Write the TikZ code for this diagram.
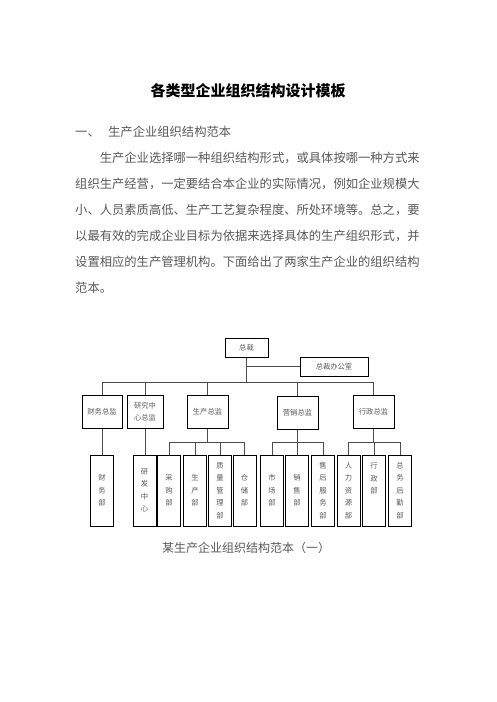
\documentclass[tikz,border=0pt]{standalone}
\usepackage{fontspec}
\setmainfont{Noto Sans CJK SC}
\tikzset{
  body/.style={anchor=west, inner sep=0, text=black!65, font=\fontsize{12.3}{14}\selectfont},
  topbox/.style={draw, line width=1pt, minimum height=19, inner sep=0, text=black!65, font=\fontsize{7.3}{10}\selectfont},
  mgr/.style={draw, line width=1pt, minimum height=33, inner sep=0, align=center, text=black!65, font=\fontsize{7.3}{12.5}\selectfont},
  dept/.style={draw, line width=1pt, minimum width=23, minimum height=71, inner sep=0, align=center, text=black!65, font=\fontsize{7.3}{12.5}\selectfont},
  link/.style={draw=black!70, line width=0.8pt}
}
\begin{document}
\begin{tikzpicture}[x=1pt,y=-1pt]
      \useasboundingbox[fill=white] (0,0) rectangle (496,702);

      \node[inner sep=0, font=\fontsize{15}{18}\selectfont\bfseries] (title) at (248,91) {各类型企业组织结构设计模板};
      \node[body] (sec) at (75,132) {一、\hspace{8.4pt}生产企业组织结构范本};
      \node[body] (l1) at (99.6,158) {生产企业选择哪一种组织结构形式，或具体按哪一种方式来};
      \node[body] (l2) at (75,184) {组织生产经营，一定要结合本企业的实际情况，例如企业规模大};
      \node[body] (l3) at (75,210) {小、人员素质高低、生产工艺复杂程度、所处环境等。总之，要};
      \node[body] (l4) at (75,236) {以最有效的完成企业目标为依据来选择具体的生产组织形式，并};
      \node[body] (l5) at (75,262) {设置相应的生产管理机构。下面给出了两家生产企业的组织结构};
      \node[body] (l6) at (75,288) {范本。};

      \node[topbox, minimum width=43] (zc) at (246.5,347.5) {总裁};
      \node[topbox, minimum width=68] (zcb) at (334,366.5) {总裁办公室};

      \node[mgr, minimum width=40] (cwzj) at (102,411.5) {财务总监};
      \node[mgr, minimum width=36] (yjzj) at (145,411.5) {研究中\\心总监};
      \node[mgr, minimum width=41] (sczj) at (207.5,412) {生产总监};
      \node[mgr, minimum width=41] (yxzj) at (297.5,412.5) {营销总监};
      \node[mgr, minimum width=41] (xzzj) at (373.5,411.5) {行政总监};

      \node[dept] (cwb) at (102,490.5) {财\\务\\部};
      \node[dept] (yfzx) at (144.5,490.5) {研\\发\\中\\心};
      \node[dept] (cgb) at (169,490.5) {采\\购\\部};
      \node[dept] (scb) at (195,490.5) {生\\产\\部};
      \node[dept] (zlb) at (220,490.5) {质\\量\\管\\理\\部};
      \node[dept] (ccb) at (244.5,490.5) {仓\\储\\部};
      \node[dept] (scc) at (272,490.5) {市\\场\\部};
      \node[dept] (xsb) at (297,490.5) {销\\售\\部};
      \node[dept] (shb) at (323,490.5) {售\\后\\服\\务\\部};
      \node[dept] (rlb) at (348.5,490.5) {人\\力\\资\\源\\部};
      \node[dept] (xzb) at (374,490.5) {行\\政\\部\\~\\~};
      \node[dept] (zwb) at (400,490.5) {总\\务\\后\\勤\\部};

      \coordinate (bus) at (0,382);
      \coordinate (sub) at (0,442);

      \draw[link] (zc.south) -- (zc.south |- bus);
      \draw[link] (zc.south |- zcb.west) -- (zcb.west);
      \draw[link] (cwzj.north) |- (xzzj.north |- bus) -- (xzzj.north);
      \foreach \n in {yjzj,sczj,yxzj}
        \draw[link] (\n.north) -- (\n.north |- bus);

      \draw[link] (cwzj.south) -- (cwb.north);
      \draw[link] (yjzj.south) -- (yjzj.south |- yfzx.north);
      \foreach \a/\b/\c in {sczj/cgb/ccb, yxzj/scc/shb, xzzj/rlb/zwb} {
        \draw[link] (\a.south) -- (\a.south |- sub);
        \draw[link] (\b.north) |- (\c.north |- sub) -- (\c.north);
      }
      \foreach \n in {scb,zlb,xsb,xzb}
        \draw[link] (\n.north) -- (\n.north |- sub);

      \node[inner sep=0, anchor=west, text=black!65, font=\fontsize{12}{14}\selectfont] (cap) at (162,548) {某生产企业组织结构范本（一）};
\end{tikzpicture}
\end{document}
